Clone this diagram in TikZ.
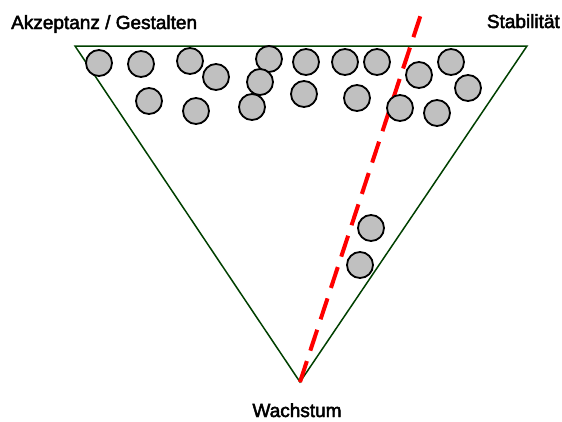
\documentclass[tikz,border=0pt]{standalone}
\usepackage{fontspec}
\setmainfont{Liberation Sans}
\newfontfamily\lblfont{Liberation Sans}[BoldFont={Liberation Sans},BoldFeatures={FakeBold=2.5}]
\definecolor{tri}{RGB}{0,64,0}
\definecolor{ball}{RGB}{192,192,192}
\definecolor{redline}{RGB}{255,0,0}
\begin{document}
\begin{tikzpicture}[x=1pt,y=-1pt,
  ballstyle/.style={circle,draw=black,fill=ball,line width=1.8pt,minimum size=26pt,inner sep=0pt},
  lbl/.style={font=\lblfont\bfseries\fontsize{19}{22}\selectfont,inner sep=0pt},
  triline/.style={draw=tri,line width=1.5pt,line join=miter},
  axisline/.style={draw=redline,line width=4pt,dash pattern=on 22pt off 11pt}]
\useasboundingbox (0,0) rectangle (562,421);
\coordinate (tl) at (75,46);
\coordinate (tr) at (527,46);
\coordinate (bt) at (300,382);
\coordinate (rtop) at (423,8);
\draw[triline] (tl) -- (tr) -- (bt) -- cycle;
\draw[axisline] (bt) -- (rtop);
\foreach \n/\x/\y in {1/99/63,2/141/64,3/190/61,4/216/77,5/269/59,6/260/82,7/149/101,8/196/111,9/252/107,
  10/306/62,11/345/62,12/377/62,13/419/75,14/451/62,15/468/88,16/304/94,17/357/98,18/400/108,19/437/113,
  20/371/228,21/360/265}
  \node[ballstyle] (c\n) at (\x,\y) {};
\node[lbl,anchor=base west] (akz) at (11,29) {Akzeptanz / Gestalten};
\node[lbl,anchor=base east] (stab) at (560,28) {Stabilität};
\node[lbl,anchor=base] (wachs) at (297,417) {Wachstum};
\end{tikzpicture}
\end{document}
